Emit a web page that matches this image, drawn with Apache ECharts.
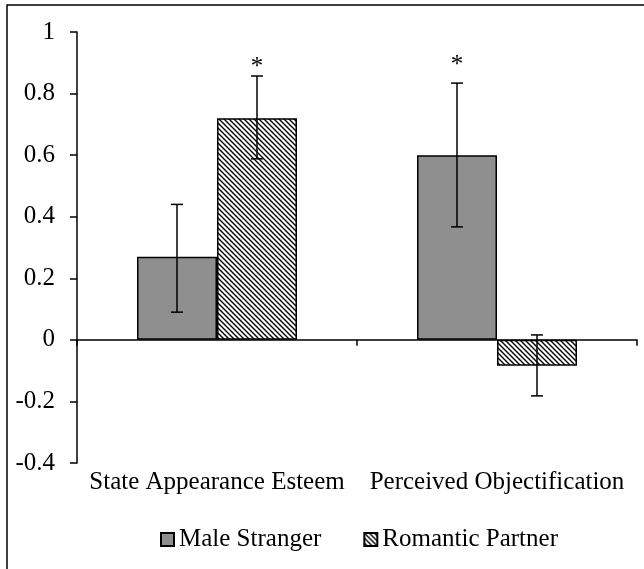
<!DOCTYPE html>
<html>
<head>
<meta charset="utf-8">
<style>
  html, body { margin: 0; padding: 0; background: #fff; }
  #main { width: 644px; height: 569px; }
</style>
<script src="https://cdn.jsdelivr.net/npm/echarts@6/dist/echarts.min.js"></script>
</head>
<body>
<div id="main"></div>
<script>
var categories = ["State Appearance Esteem", "Perceived Objectification"];
var seriesNames = ["Male Stranger", "Romantic Partner"];
var maleStranger = [0.27, 0.60];
var romanticPartner = [0.72, -0.084];
var maleLow = [0.09, 0.367];
var maleHigh = [0.44, 0.834];
var partnerLow = [0.588, -0.182];
var partnerHigh = [0.857, 0.016];
// asterisk level (null = no asterisk)
var maleStar = [null, 0.89];
var partnerStar = [0.885, null];

var serif = "'Liberation Serif', 'Times New Roman', serif";

// diagonal hatch for the partner bars
function makeHatch() {
  var c = document.createElement("canvas");
  c.width = 5;
  c.height = 5;
  var ctx = c.getContext("2d");
  ctx.fillStyle = "#fff";
  ctx.fillRect(0, 0, 5, 5);
  ctx.strokeStyle = "#000";
  ctx.lineWidth = 1.4;
  ctx.beginPath();
  ctx.moveTo(-1, -1); ctx.lineTo(6, 6);
  ctx.moveTo(-1, 4); ctx.lineTo(1, 6);
  ctx.moveTo(4, -1); ctx.lineTo(6, 1);
  ctx.stroke();
  return c;
}
var hatch = makeHatch();

function errData(low, high, star) {
  var arr = [];
  for (var i = 0; i < low.length; i++) {
    arr.push([i, low[i], high[i], star[i] == null ? -99 : star[i]]);
  }
  return arr;
}

// offset: -1 left bar, +1 right bar
function errorRender(offset) {
  return function (params, api) {
    var ci = api.value(0);
    var lo = api.coord([ci, api.value(1)]);
    var hi = api.coord([ci, api.value(2)]);
    var bw = api.size([1, 0])[0] * (80 / 280);
    var x = lo[0] + offset * bw / 2;
    var cap = 6;
    var st = { stroke: "#000", lineWidth: 1.5 };
    var kids = [
      { type: "line", shape: { x1: x, y1: lo[1], x2: x, y2: hi[1] }, style: st },
      { type: "line", shape: { x1: x - cap, y1: lo[1], x2: x + cap, y2: lo[1] }, style: st },
      { type: "line", shape: { x1: x - cap, y1: hi[1], x2: x + cap, y2: hi[1] }, style: st }
    ];
    if (api.value(3) > -90) {
      var sp = api.coord([ci, api.value(3)]);
      kids.push({
        type: "text",
        style: {
          text: "*", x: x, y: sp[1], align: "center", verticalAlign: "middle",
          fontFamily: serif, fontSize: 25, fill: "#000"
        }
      });
    }
    return { type: "group", children: kids };
  };
}

var myChart = echarts.init(document.getElementById("main"));
var option = {
  animation: false,
  backgroundColor: "#fff",
  textStyle: { fontFamily: serif, color: "#000" },
  graphic: [
    {
      type: "rect",
      shape: { x: 7, y: 5, width: 700, height: 700 },
      style: { fill: "none", stroke: "#000", lineWidth: 1.5 },
      silent: true
    }
  ],
  grid: { left: 77, right: 7, top: 32, bottom: 106 },
  legend: {
    data: seriesNames,
    left: 160,
    top: 527,
    padding: 0,
    itemWidth: 13,
    itemHeight: 13,
    itemGap: 42,
    icon: "rect",
    textStyle: { fontFamily: serif, fontSize: 25, color: "#000" }
  },
  xAxis: [
    {
      type: "category",
      data: categories,
      axisLine: { onZero: true, lineStyle: { color: "#000", width: 1.5 } },
      axisTick: { show: true, length: 6, lineStyle: { color: "#000", width: 1.5 } },
      axisLabel: { show: false }
    },
    {
      type: "category",
      data: categories,
      position: "bottom",
      axisLine: { show: false, onZero: false },
      axisTick: { show: false },
      axisLabel: {
        interval: 0,
        margin: 7,
        fontFamily: serif,
        fontSize: 25,
        color: "#000"
      }
    }
  ],
  yAxis: {
    type: "value",
    min: -0.4,
    max: 1,
    interval: 0.2,
    splitLine: { show: false },
    axisLine: { show: true, lineStyle: { color: "#000", width: 1.5 } },
    axisTick: { show: true, length: 7, lineStyle: { color: "#000", width: 1.5 } },
    axisLabel: {
      margin: 22,
      fontFamily: serif,
      fontSize: 25,
      color: "#000",
      formatter: function (v) { return String(Math.round(v * 10) / 10); }
    }
  },
  series: [
    {
      name: seriesNames[0],
      type: "bar",
      data: maleStranger,
      barGap: 0,
      barCategoryGap: "42.86%",
      itemStyle: { color: "#8f8f8f", borderColor: "#000", borderWidth: 1.5 }
    },
    {
      name: seriesNames[1],
      type: "bar",
      data: romanticPartner,
      itemStyle: {
        color: { image: hatch, repeat: "repeat" },
        borderColor: "#000",
        borderWidth: 1.5
      }
    },
    {
      type: "custom",
      renderItem: errorRender(-1),
      data: errData(maleLow, maleHigh, maleStar),
      z: 10,
      silent: true
    },
    {
      type: "custom",
      renderItem: errorRender(1),
      data: errData(partnerLow, partnerHigh, partnerStar),
      z: 10,
      silent: true
    }
  ]
};
myChart.setOption(option);
</script>
</body>
</html>
